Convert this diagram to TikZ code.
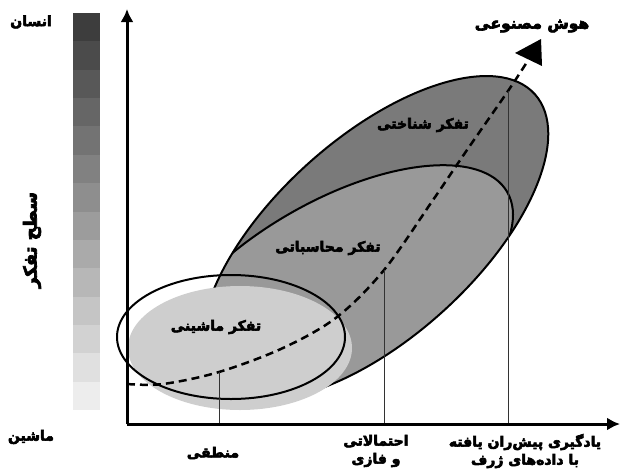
\documentclass[tikz,border=0pt]{standalone}
\usepackage{fontspec}
\newfontfamily\farsi[Script=Arabic, BoldFeatures={FakeBold=4}]{DejaVu Sans}
\TeXXeTstate=1
\usetikzlibrary{arrows.meta, math}
\definecolor{dgray}{RGB}{122,122,122}
\definecolor{mgray}{RGB}{153,153,153}
\definecolor{lgray}{RGB}{206,206,206}
\newcommand{\fa}[1]{\beginR #1\endR}

\begin{document}
\begin{tikzpicture}[x=1pt, y=-1pt,
  lbl/.style={font=\farsi\bfseries\fontsize{14}{18}\selectfont, inner sep=0pt, align=center},
  guide/.style={draw=black!80, line width=1pt},
  axis/.style={line width=3pt, -{Latex[length=13pt, width=13pt]}},
  rim/.style={draw=black, line width=2pt}]

\useasboundingbox (0,0) rectangle (620,469);

\tikzmath{
\Nb = 14;
\Ht = 397/\Nb;%band height
}

% level bar
\foreach \i in {1,...,\Nb}{
\pgfmathsetmacro\k{76-(\i-1)*69/(\Nb-1)}
\fill[black!\k] (73,{13+(\i-1)*\Ht}) rectangle (100,{13+\i*\Ht+0.3});
}
\node[lbl] (human) at (31,22) {\fa{انسان}};
\node[lbl] (machine) at (31,437) {\fa{ماشین}};
\node[lbl, font=\farsi\bfseries\fontsize{18}{20}\selectfont, rotate=90] (level) at (32,240) {\fa{سطح تفکر}};

% regions
\fill[dgray, rotate around={42:(375,238)}] (375,238) ellipse [x radius=215, y radius=100];
\begin{scope}
\clip[rotate around={42:(375,238)}] (375,238) ellipse [x radius=215, y radius=100];
\fill[mgray, rotate around={30:(334,292)}] (334,292) ellipse [x radius=200, y radius=90];
\draw[rim, rotate around={30:(334,292)}] (334,292) ellipse [x radius=200, y radius=90];
\end{scope}
\draw[rim, rotate around={42:(375,238)}] (375,238) ellipse [x radius=215, y radius=100];
\fill[lgray] (240,348) ellipse [x radius=112, y radius=62];
\draw[rim] (231,337) ellipse [x radius=114, y radius=62];

\node[lbl] (cog) at (423,125) {\fa{تفکر شناختی}};
\node[lbl] (comp) at (328,248) {\fa{تفکر محاسباتی}};
\node[lbl] (mach) at (216,327) {\fa{تفکر ماشینی}};

% ai path
\coordinate (c1) at (219,372);
\coordinate (c2) at (384,270);
\coordinate (c3) at (508,91);
\draw[line width=2.5pt, dash pattern=on 8pt off 5pt]
  plot[smooth, tension=0.55] coordinates {(127,384) (163,384) (c1) (283,348) (337,317) (c2) (433,200) (467,150) (c3) (527,62)};
\fill (515,53) -- (541,39) -- (542,66) -- cycle;
\node[lbl, font=\farsi\bfseries\fontsize{15.5}{18}\selectfont] (ai) at (532,26) {\fa{هوش مصنوعی}};

% axes
\coordinate (o) at (127,424);
\coordinate (ytip) at (127,9);
\coordinate (xtip) at (620,424);
\foreach \c in {1,2,3}{
\draw[guide] (c\c) -- (c\c |- o);
}
\draw[axis] (o) -- (ytip);
\draw[axis] (o) -- (xtip);

\node[lbl] (logic) at (213,453) {\fa{منطقی}};
\node[lbl] (fuzzy) at (376,451) {\fa{احتمالاتی}\\\fa{و فازی}};
\node[lbl] (deep) at (525,451) {\fa{یادگیری پیش‌ران یافته}\\\fa{با داده‌های ژرف}};

\end{tikzpicture}
\end{document}
